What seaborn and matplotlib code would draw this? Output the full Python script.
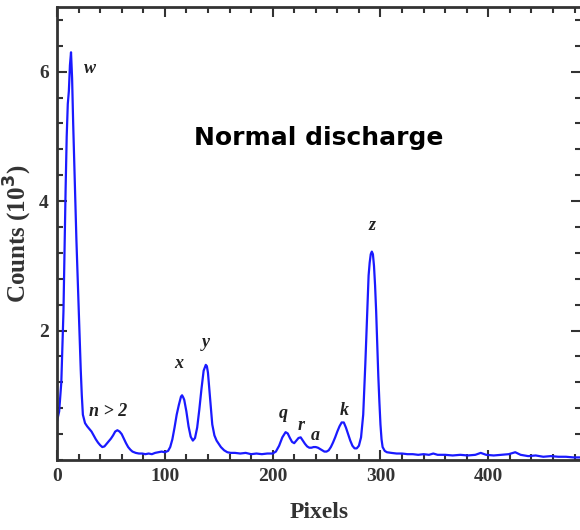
import matplotlib
matplotlib.use("Agg")
import matplotlib.pyplot as plt
import seaborn as sns
import pandas as pd
from matplotlib.ticker import MultipleLocator

pixels = [0, 2, 4, 6, 8, 9, 10, 11, 12, 13, 14, 15, 16, 17, 18, 19, 20, 21, 22, 23, 24, 26, 28, 30, 32,
          34, 36, 38, 40, 42, 44, 46, 48, 50, 52, 54, 56, 58, 60, 62, 64, 66, 68, 70, 73, 76, 79, 82,
          85, 88, 91, 94, 97, 100, 103, 105, 107, 109, 111, 113, 115, 116, 117, 118, 120, 122, 124,
          126, 128, 130, 132, 134, 136, 138, 139, 140, 142, 144, 146, 148, 150, 152, 155, 158, 161,
          165, 170, 175, 180, 185, 190, 195, 200, 203, 206, 209, 212, 214, 216, 218, 220, 222, 224,
          226, 228, 230, 232, 234, 236, 238, 240, 242, 244, 246, 248, 250, 252, 254, 256, 258, 260,
          262, 264, 266, 268, 270, 272, 274, 276, 278, 280, 282, 284, 286, 288, 289, 290, 291, 292,
          293, 294, 295, 296, 297, 298, 299, 300, 301, 302, 304, 306, 310, 315, 320, 325, 330, 335,
          340, 345, 349, 353, 360, 367, 374, 381, 388, 393, 398, 405, 412, 419, 425, 430, 437, 444,
          451, 458, 465, 472, 479, 486]
counts = [0.60, 0.75, 1.20, 2.30, 4.20, 5.00, 5.50, 5.70, 6.10, 6.30, 5.90, 5.20, 4.60, 4.00, 3.40, 2.90,
          2.40, 1.90, 1.40, 1.00, 0.70, 0.57, 0.52, 0.48, 0.44, 0.38, 0.32, 0.27, 0.23, 0.20, 0.21,
          0.25, 0.29, 0.33, 0.38, 0.44, 0.46, 0.44, 0.40, 0.33, 0.26, 0.20, 0.16, 0.13, 0.11, 0.10,
          0.10, 0.09, 0.10, 0.09, 0.11, 0.12, 0.13, 0.12, 0.14, 0.20, 0.32, 0.50, 0.70, 0.85, 0.98,
          1.00, 0.97, 0.93, 0.75, 0.52, 0.36, 0.30, 0.34, 0.50, 0.78, 1.10, 1.38, 1.47, 1.45, 1.35,
          0.95, 0.55, 0.38, 0.30, 0.25, 0.20, 0.15, 0.12, 0.11, 0.11, 0.10, 0.11, 0.09, 0.10, 0.09,
          0.10, 0.10, 0.13, 0.22, 0.35, 0.43, 0.41, 0.34, 0.28, 0.26, 0.30, 0.34, 0.35, 0.30, 0.25,
          0.21, 0.19, 0.19, 0.20, 0.20, 0.19, 0.17, 0.15, 0.13, 0.13, 0.15, 0.20, 0.27, 0.35, 0.44,
          0.52, 0.58, 0.58, 0.50, 0.40, 0.30, 0.22, 0.18, 0.18, 0.22, 0.35, 0.70, 1.50, 2.40, 2.85,
          3.05, 3.18, 3.22, 3.18, 3.00, 2.70, 2.30, 1.80, 1.30, 0.90, 0.55, 0.32, 0.20, 0.14, 0.12,
          0.11, 0.10, 0.10, 0.09, 0.09, 0.08, 0.09, 0.08, 0.10, 0.08, 0.08, 0.07, 0.08, 0.07, 0.08,
          0.11, 0.08, 0.07, 0.08, 0.09, 0.12, 0.08, 0.06, 0.07, 0.05, 0.06, 0.05, 0.05, 0.04, 0.04]

peak_labels = ["w", "n > 2", "x", "y", "q", "r", "a", "k", "z"]
peak_x = [31, 47, 113, 138, 210, 226, 240, 266, 292]
peak_y = [5.92, 0.62, 1.36, 1.68, 0.58, 0.40, 0.25, 0.64, 3.50]

df = pd.DataFrame({"Pixels": pixels, "Counts": counts})

sns.set_style("ticks")
fig = plt.figure(figsize=(5.8, 5.3), dpi=100)
ax = fig.add_axes([57 / 580, 70 / 530, (581 - 57) / 580, (460 - 7) / 530])
sns.lineplot(data=df, x="Pixels", y="Counts", ax=ax, color="#1a1aff", lw=1.6)

ax.set_xlim(0, 486)
ax.set_ylim(0, 7)
ax.xaxis.set_major_locator(MultipleLocator(100))
ax.xaxis.set_minor_locator(MultipleLocator(20))
ax.yaxis.set_minor_locator(MultipleLocator(0.4))
ax.set_yticks([2, 4, 6])
ax.tick_params(which="both", direction="in", top=True, right=True, color="#333333", width=1.5)
ax.tick_params(which="major", length=7, pad=6)
ax.tick_params(which="minor", length=4)
for s in ax.spines.values():
    s.set_color("#333333")
    s.set_linewidth(2)

for lab in ax.get_xticklabels() + ax.get_yticklabels():
    lab.set_fontfamily("Liberation Serif")
    lab.set_fontweight("bold")
    lab.set_fontsize(14)
    lab.set_color("#333333")

ax.set_xlabel("Pixels", fontfamily="Liberation Serif", fontweight="bold", fontsize=17, color="#333333")
ax.set_ylabel("Counts (10$^\\mathbf{3}$)", fontfamily="Liberation Serif", fontweight="bold", fontsize=18,
              color="#333333")
ax.xaxis.set_label_coords(0.5, -0.092)
ax.yaxis.set_label_coords(-0.044, 0.5)

for t, x, y in zip(peak_labels, peak_x, peak_y):
    ax.text(x, y, t, fontfamily="Liberation Serif", fontstyle="italic", fontweight="bold",
            fontsize=13, color="#222222", ha="center", va="bottom")

ax.text(0.5, 0.71, "Normal discharge", transform=ax.transAxes, ha="center", va="center",
        fontfamily="DejaVu Sans", fontweight="bold", fontsize=18, color="black")

fig.savefig("out.png", dpi=100)
